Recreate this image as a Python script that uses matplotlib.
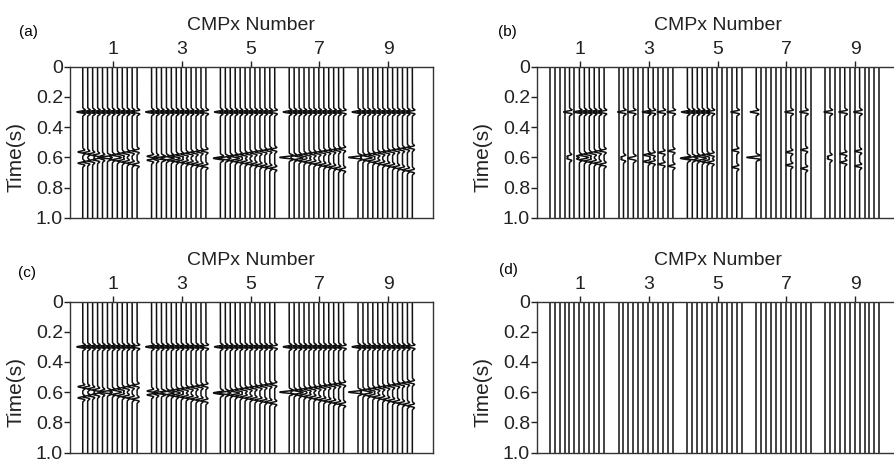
import numpy as np
import matplotlib
matplotlib.use("Agg")
import matplotlib.pyplot as plt

plt.rcParams['font.family'] = ['Liberation Sans', 'DejaVu Sans']

# axis ticks
cmp_ticks = [1, 3, 5, 7, 9]
ytick_vals = [0, 0.2, 0.4, 0.6, 0.8, 1.0]
ytick_labels = ['0', '0.2', '0.4', '0.6', '0.8', '1.0']

# each gather (group of traces) starts at this CMP coordinate, 12 traces each
group_start = [0.12, 2.12, 4.12, 6.12, 8.12]
n_traces = 12
trace_step = 0.1436

# flat reflection (s)
t_flat = 0.30
# two crossing events around 0.6 s, one time per trace in each gather
t_up = [
    [0.564, 0.571, 0.579, 0.586, 0.593, 0.600, 0.592, 0.585, 0.578, 0.571, 0.563, 0.556],
    [0.593, 0.598, 0.604, 0.601, 0.595, 0.590, 0.584, 0.579, 0.573, 0.568, 0.562, 0.557],
    [0.602, 0.603, 0.597, 0.592, 0.586, 0.581, 0.575, 0.570, 0.564, 0.559, 0.553, 0.548],
    [0.600, 0.595, 0.590, 0.585, 0.580, 0.575, 0.570, 0.565, 0.560, 0.555, 0.550, 0.545],
    [0.600, 0.594, 0.588, 0.582, 0.576, 0.570, 0.565, 0.559, 0.553, 0.547, 0.541, 0.535],
]
t_dn = [
    [0.638, 0.631, 0.623, 0.615, 0.607, 0.600, 0.608, 0.616, 0.624, 0.631, 0.639, 0.647],
    [0.618, 0.612, 0.606, 0.610, 0.616, 0.622, 0.627, 0.633, 0.639, 0.645, 0.651, 0.657],
    [0.609, 0.608, 0.614, 0.621, 0.627, 0.633, 0.640, 0.646, 0.652, 0.659, 0.665, 0.672],
    [0.600, 0.607, 0.615, 0.622, 0.629, 0.636, 0.644, 0.651, 0.658, 0.665, 0.673, 0.680],
    [0.600, 0.608, 0.616, 0.625, 0.633, 0.641, 0.649, 0.657, 0.665, 0.674, 0.682, 0.690],
]
amp_flat = 1.0
amp_cross = 0.8

# traces that still carry signal in the decimated data (b)
live_b = [
    [4, 6, 7, 8, 9, 10, 11],
    [1, 3, 6, 7, 9, 11],
    [0, 1, 2, 3, 4, 5, 10],
    [0, 7, 10],
    [1, 4, 7],
]
all_live = [list(range(n_traces)) for _ in range(5)]
no_live = [[] for _ in range(5)]

t = np.arange(0, 1.001, 0.001)
freq = 28.0
wig_scale = 0.17


def ricker(tau):
    a = (np.pi * freq * tau) ** 2
    return -(1 - 2 * a) * np.exp(-a)


def draw_panel(ax, live):
    for g in range(5):
        for i in range(n_traces):
            x0 = group_start[g] + i * trace_step
            trace = np.zeros_like(t)
            if i in live[g]:
                trace += amp_flat * ricker(t - t_flat)
                trace += amp_cross * ricker(t - t_up[g][i])
                trace += amp_cross * ricker(t - t_dn[g][i])
            ax.plot(x0 + wig_scale * trace, t, color='#111111', lw=1.1)

    ax.set_xlim(-0.25, 10.30)
    ax.set_ylim(1.0, 0)
    ax.xaxis.tick_top()
    ax.xaxis.set_label_position('top')
    ax.set_xticks(cmp_ticks)
    ax.set_xticklabels([str(c) for c in cmp_ticks])
    ax.set_yticks(ytick_vals)
    ax.set_yticklabels(ytick_labels)
    ax.tick_params(axis='x', direction='out', length=4, width=1, pad=2, labelsize=14, colors='#222222')
    ax.tick_params(axis='y', direction='out', length=4, width=1, pad=1, labelsize=14, colors='#222222')
    ax.set_xlabel('CMPx Number', fontsize=14, labelpad=8, color='#222222')
    ax.set_ylabel('Time(s)', fontsize=15, color='#222222')
    ax.yaxis.set_label_coords(-0.122, 0.40)
    for sp in ax.spines.values():
        sp.set_linewidth(1.0)
        sp.set_color('#333333')


fig = plt.figure(figsize=(8.95, 4.62), dpi=100)
W, H = 895.0, 462.0
ax_w = 363 / W
axa = fig.add_axes([70 / W, 1 - 218 / H, ax_w, 151.5 / H])
axb = fig.add_axes([537 / W, 1 - 218 / H, ax_w, 151.5 / H])
axc = fig.add_axes([70 / W, 1 - 452.5 / H, ax_w, 151 / H])
axd = fig.add_axes([537 / W, 1 - 452.5 / H, ax_w, 151 / H])

draw_panel(axa, all_live)
draw_panel(axb, live_b)
draw_panel(axc, all_live)
draw_panel(axd, no_live)

fig.text(28 / W, 1 - 32 / H, '(a)', fontsize=11, ha='center', va='center')
fig.text(507 / W, 1 - 32 / H, '(b)', fontsize=11, ha='center', va='center')
fig.text(27 / W, 1 - 273 / H, '(c)', fontsize=11, ha='center', va='center')
fig.text(508 / W, 1 - 270 / H, '(d)', fontsize=11, ha='center', va='center')

fig.savefig('out.png', dpi=100)
